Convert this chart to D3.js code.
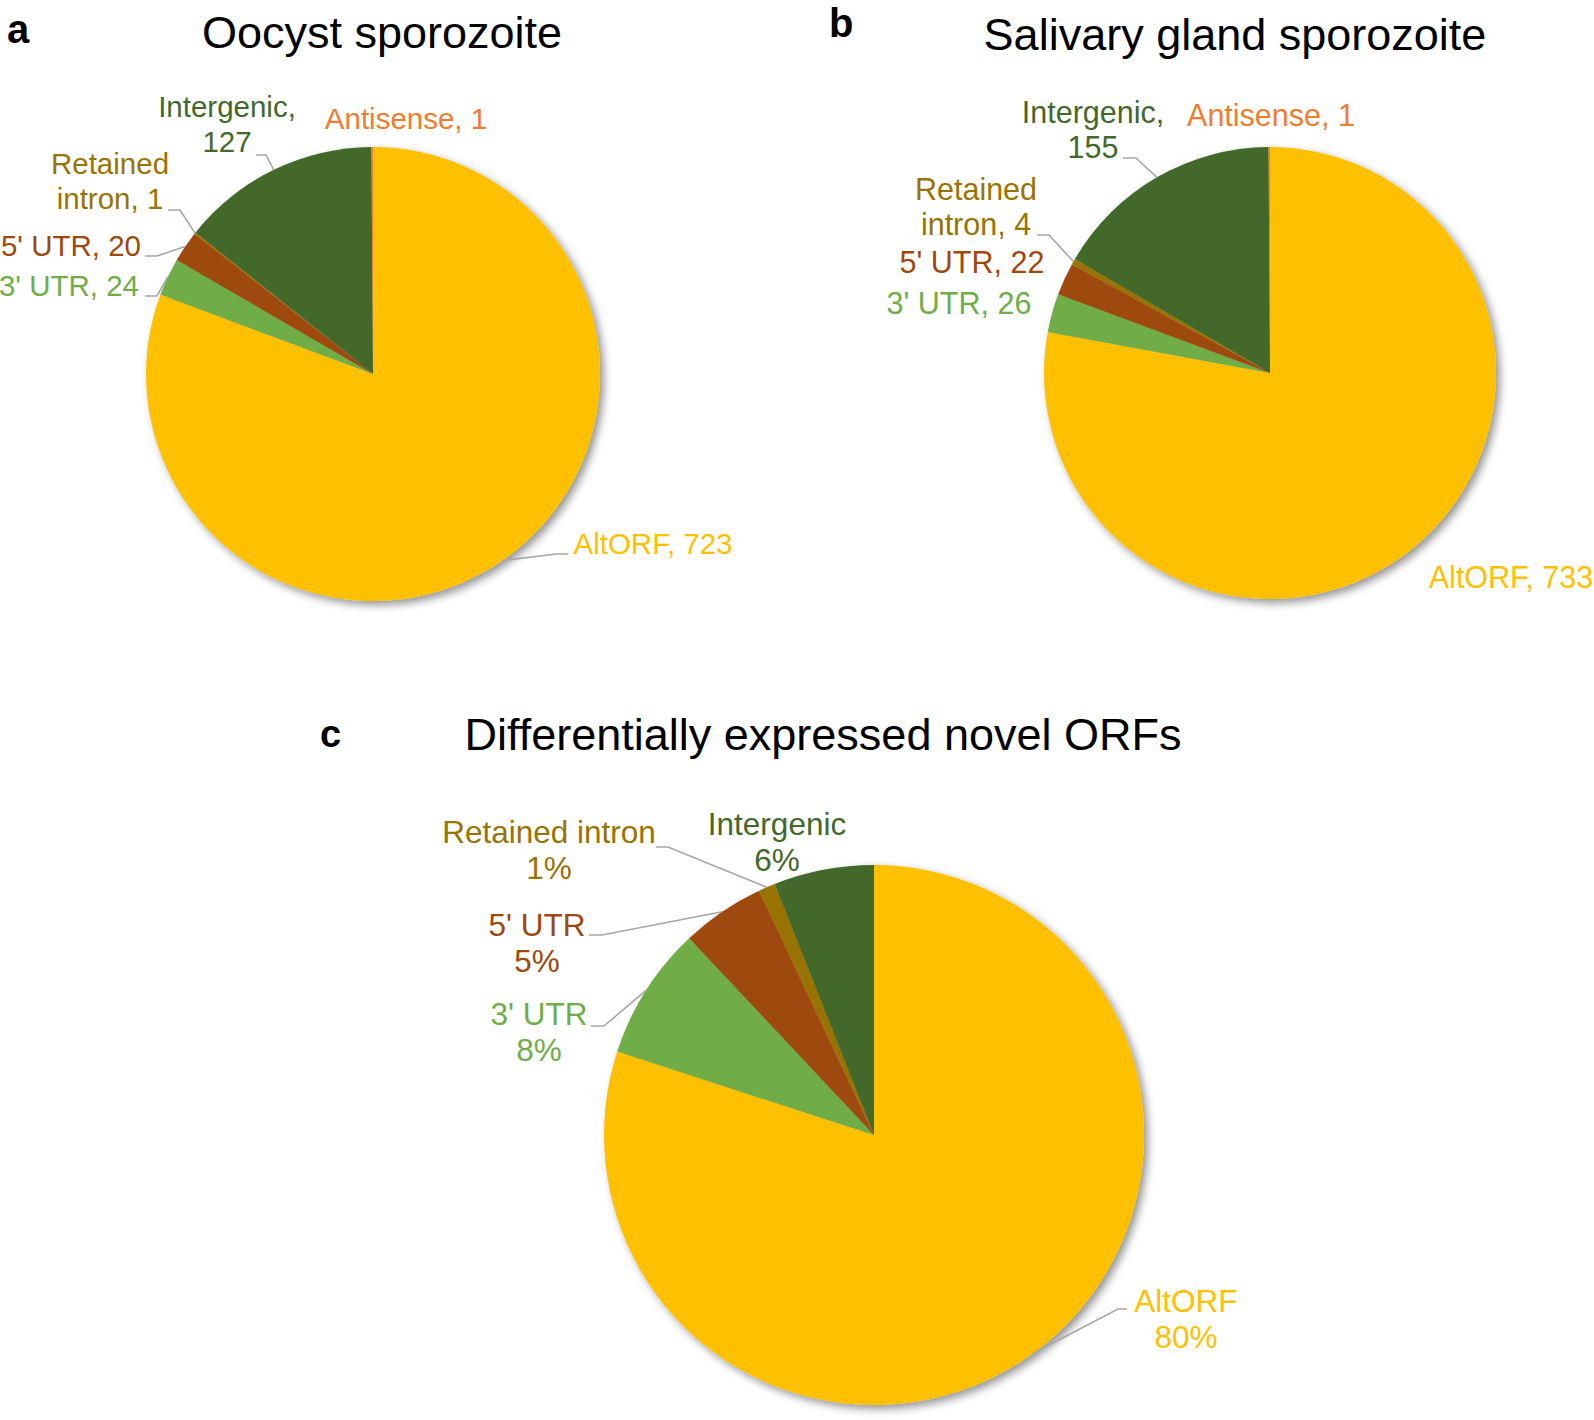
<!DOCTYPE html>
<html><head><meta charset="utf-8">
<script src="https://cdn.jsdelivr.net/npm/d3@7"></script>
<style>
html,body{margin:0;padding:0;background:#fff;}
svg{display:block;font-family:"Liberation Sans",Arial,sans-serif;}
</style></head>
<body>
<svg id="chart" width="1594" height="1420"></svg>
<script>
// ---- data ----
const categoriesAB = ["AltORF", "3' UTR", "5' UTR", "Retained intron", "Intergenic", "Antisense"];
const valuesOocyst = [723, 24, 20, 1, 127, 1];
const valuesSalivary = [733, 26, 22, 4, 155, 1];
const categoriesC = ["AltORF", "3' UTR", "5' UTR", "Retained intron", "Intergenic"];
const percentC = [80, 8, 5, 1, 6];
const titles = ["Oocyst sporozoite", "Salivary gland sporozoite", "Differentially expressed novel ORFs"];
const panelLetters = ["a", "b", "c"];

// ---- styles ----
const sliceColors = {"AltORF":"#FFC000","3' UTR":"#70AD47","5' UTR":"#9E480E","Retained intron":"#997300","Intergenic":"#43682B","Antisense":"#ED7D31"};

// ---- layout (positions only) ----
const layouts = [
  { cx:373, cy:374, r:227, fs:29.5, lh:35,
    title:{x:382,y:48}, letter:{x:7,y:43,fs:40},
    labels:{
      "AltORF":{x:653,y:554,wrap:false},
      "3' UTR":{x:139,y:296,anchor:"end",wrap:false},
      "5' UTR":{x:141,y:256,anchor:"end",wrap:false},
      "Retained intron":{x:110,y:174,wrap:true},
      "Intergenic":{x:227,y:117,wrap:true},
      "Antisense":{x:406,y:129,wrap:false}
    },
    leaders:{
      "AltORF":[568,554,557],
      "3' UTR":[145,296,157],
      "5' UTR":[145,256,157],
      "Retained intron":[168,210,180],
      "Intergenic":[256,155,266]
    }},
  { cx:1270, cy:373, r:226, fs:30.5, lh:35,
    title:{x:1235,y:50}, letter:{x:829,y:37,fs:40},
    labels:{
      "AltORF":{x:1511,y:588,wrap:false},
      "3' UTR":{x:959,y:314,wrap:false},
      "5' UTR":{x:972,y:273,wrap:false},
      "Retained intron":{x:976,y:200,wrap:true},
      "Intergenic":{x:1093,y:123,wrap:true},
      "Antisense":{x:1271,y:126,wrap:false}
    },
    leaders:{
      "Retained intron":[1037,235,1049],
      "Intergenic":[1123,158,1136]
    }},
  { cx:874, cy:1135, r:270, fs:31.5, lh:36,
    title:{x:823,y:750}, letter:{x:320,y:747,fs:38},
    labels:{
      "AltORF":{x:1186,y:1312},
      "3' UTR":{x:539,y:1025},
      "5' UTR":{x:537,y:936},
      "Retained intron":{x:549,y:843},
      "Intergenic":{x:777,y:835}
    },
    leaders:{
      "AltORF":[1127,1309,1118],
      "3' UTR":[591,1026,604],
      "5' UTR":[589,935,602],
      "Retained intron":[656,847,668]
    }}
];

const svg = d3.select("#chart");
const defs = svg.append("defs");
const f = defs.append("filter").attr("id","shadow").attr("x","-20%").attr("y","-20%").attr("width","140%").attr("height","140%");
f.append("feDropShadow").attr("dx",4).attr("dy",4).attr("stdDeviation",4)
 .attr("flood-color","#000").attr("flood-opacity",0.42);

const charts = [
  {cats:categoriesAB, vals:valuesOocyst, mode:"count"},
  {cats:categoriesAB, vals:valuesSalivary, mode:"count"},
  {cats:categoriesC, vals:percentC, mode:"pct"}
];

charts.forEach((c, i) => {
  const L = layouts[i];
  const data = c.cats.map((k, j) => ({name:k, value:c.vals[j]}));
  const pie = d3.pie().sort(null).value(d => d.value).startAngle(0).endAngle(2*Math.PI);
  const arcs = pie(data);
  const arc = d3.arc().innerRadius(0).outerRadius(L.r);
  const edge = d3.arc().innerRadius(L.r).outerRadius(L.r);

  // title + letter
  svg.append("text").attr("x", L.title.x).attr("y", L.title.y)
    .attr("text-anchor","middle").attr("font-size",45).attr("fill","#000").text(titles[i]);
  svg.append("text").attr("x", L.letter.x).attr("y", L.letter.y)
    .attr("font-size",L.letter.fs).attr("font-weight","bold").attr("fill","#000").text(panelLetters[i]);

  const g = svg.append("g").attr("transform", `translate(${L.cx},${L.cy})`);
  g.append("g").attr("filter","url(#shadow)")
    .selectAll("path").data(arcs).join("path")
    .attr("d", arc).attr("fill", d => sliceColors[d.data.name]);

  // leader lines
  arcs.forEach(a => {
    const ld = L.leaders[a.data.name];
    if (!ld) return;
    const p = edge.centroid(a);
    const pts = [[ld[0], ld[1]], [ld[2], ld[1]], [L.cx + p[0], L.cy + p[1]]];
    svg.append("path").attr("d", d3.line()(pts))
      .attr("fill","none").attr("stroke","#A6A6A6").attr("stroke-width",1.6);
  });

  // labels
  arcs.forEach(a => {
    const lab = L.labels[a.data.name];
    if (!lab) return;
    let lines;
    if (c.mode === "pct") {
      lines = [a.data.name, a.data.value + "%"];
    } else {
      const full = a.data.name + ", " + a.data.value;
      if (lab.wrap) {
        const k = full.indexOf(" ");
        lines = [full.slice(0, k), full.slice(k + 1)];
      } else lines = [full];
    }
    const t = svg.append("text").attr("font-size", L.fs)
      .attr("text-anchor", lab.anchor || "middle")
      .attr("fill", sliceColors[a.data.name]);
    lines.forEach((s, j) => {
      t.append("tspan").attr("x", lab.x).attr("y", lab.y + j * L.lh).text(s);
    });
  });
});
</script>
</body></html>
